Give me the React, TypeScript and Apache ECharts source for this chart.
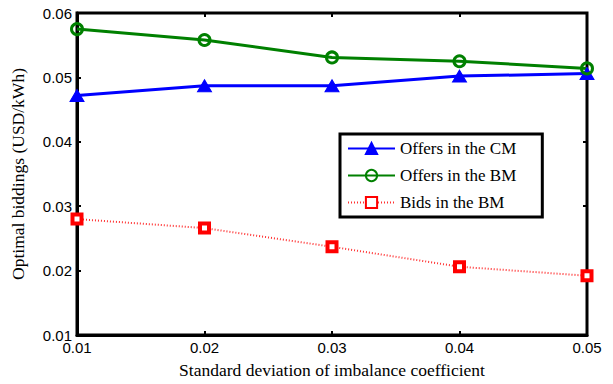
import React, { useEffect, useRef } from "react";
import * as echarts from "echarts";

const xValues = [0.01, 0.02, 0.03, 0.04, 0.05];
const offersCM = [0.0472, 0.0487, 0.0487, 0.0502, 0.0506];
const offersBM = [0.0575, 0.0558, 0.0531, 0.0525, 0.0514];
const bidsBM = [0.028, 0.0266, 0.0237, 0.0206, 0.0192];
const seriesNames = ["Offers in the CM", "Offers in the BM", "Bids in the BM"];
const xTitle = "Standard deviation of imbalance coefficient";
const yTitle = "Optimal biddings (USD/kWh)";

const SERIF = "Times New Roman, Liberation Serif, serif";
const SANS = "Arial, Liberation Sans, sans-serif";

export default function App() {
  const ref = useRef<HTMLDivElement>(null);
  useEffect(() => {
    if (!ref.current) return;
    const chart = echarts.init(ref.current, null, { renderer: "svg" });
    const pair = (ys: number[]) => xValues.map((x, i) => [x, ys[i]]);
    const tickLabel = { fontFamily: SANS, fontSize: 15, color: "#000" };
    const tick = { show: true, inside: true, length: 4, lineStyle: { color: "#000", width: 2 } };
    chart.setOption({
      animation: false,
      backgroundColor: "#fff",
      grid: { left: 77, right: 26, top: 13, bottom: 46, show: true, borderColor: "#000", borderWidth: 3 },
      legend: {
        orient: "vertical",
        left: 340,
        top: 134,
        padding: [6, 26, 6, 7],
        borderColor: "#000",
        borderWidth: 3,
        backgroundColor: "#fff",
        itemWidth: 47,
        itemHeight: 14,
        itemGap: 10,
        textStyle: { fontFamily: SERIF, fontSize: 17, color: "#000" },
        data: seriesNames,
      },
      xAxis: [
        {
          type: "value",
          min: 0.01,
          max: 0.05,
          interval: 0.01,
          name: xTitle,
          nameLocation: "middle",
          nameGap: 26,
          nameTextStyle: { fontFamily: SERIF, fontSize: 17.5, color: "#000" },
          axisLine: { show: true, lineStyle: { color: "#000", width: 3 } },
          axisTick: tick,
          axisLabel: { ...tickLabel, margin: 5, formatter: (v: number) => v.toFixed(2) },
          splitLine: { show: false },
        },
        {
          type: "value",
          position: "top",
          min: 0.01,
          max: 0.05,
          interval: 0.01,
          axisLine: { show: false },
          axisTick: tick,
          axisLabel: { show: false },
          splitLine: { show: false },
        },
      ],
      yAxis: [
        {
          type: "value",
          min: 0.01,
          max: 0.06,
          interval: 0.01,
          name: yTitle,
          nameLocation: "middle",
          nameGap: 50,
          nameTextStyle: { fontFamily: SERIF, fontSize: 17.5, color: "#000" },
          axisLine: { show: true, lineStyle: { color: "#000", width: 3 } },
          axisTick: tick,
          axisLabel: { ...tickLabel, margin: 5, formatter: (v: number) => v.toFixed(2) },
          splitLine: { show: false },
        },
        {
          type: "value",
          position: "right",
          min: 0.01,
          max: 0.06,
          interval: 0.01,
          axisLine: { show: false },
          axisTick: tick,
          axisLabel: { show: false },
          splitLine: { show: false },
        },
      ],
      series: [
        {
          name: seriesNames[0],
          type: "line",
          data: pair(offersCM),
          clip: false,
          symbol: "triangle",
          symbolSize: [14, 12],
          lineStyle: { color: "#0000ff", width: 3 },
          itemStyle: { color: "#0000ff", borderColor: "#0000ff", borderWidth: 1 },
        },
        {
          name: seriesNames[1],
          type: "line",
          data: pair(offersBM),
          clip: false,
          symbol: "circle",
          symbolSize: 11,
          lineStyle: { color: "#008000", width: 3 },
          itemStyle: { color: "rgba(255,255,255,0)", borderColor: "#008000", borderWidth: 3 },
        },
        {
          name: seriesNames[2],
          type: "line",
          data: pair(bidsBM),
          clip: false,
          symbol: "rect",
          symbolSize: 9,
          lineStyle: { color: "#ff3030", width: 2, type: [1, 2] },
          itemStyle: { color: "#fff", borderColor: "#ff0000", borderWidth: 4 },
        },
      ],
    });
    return () => chart.dispose();
  }, []);
  return <div ref={ref} style={{ width: 613, height: 384, position: "absolute", left: 0, top: 0 }} />;
}
